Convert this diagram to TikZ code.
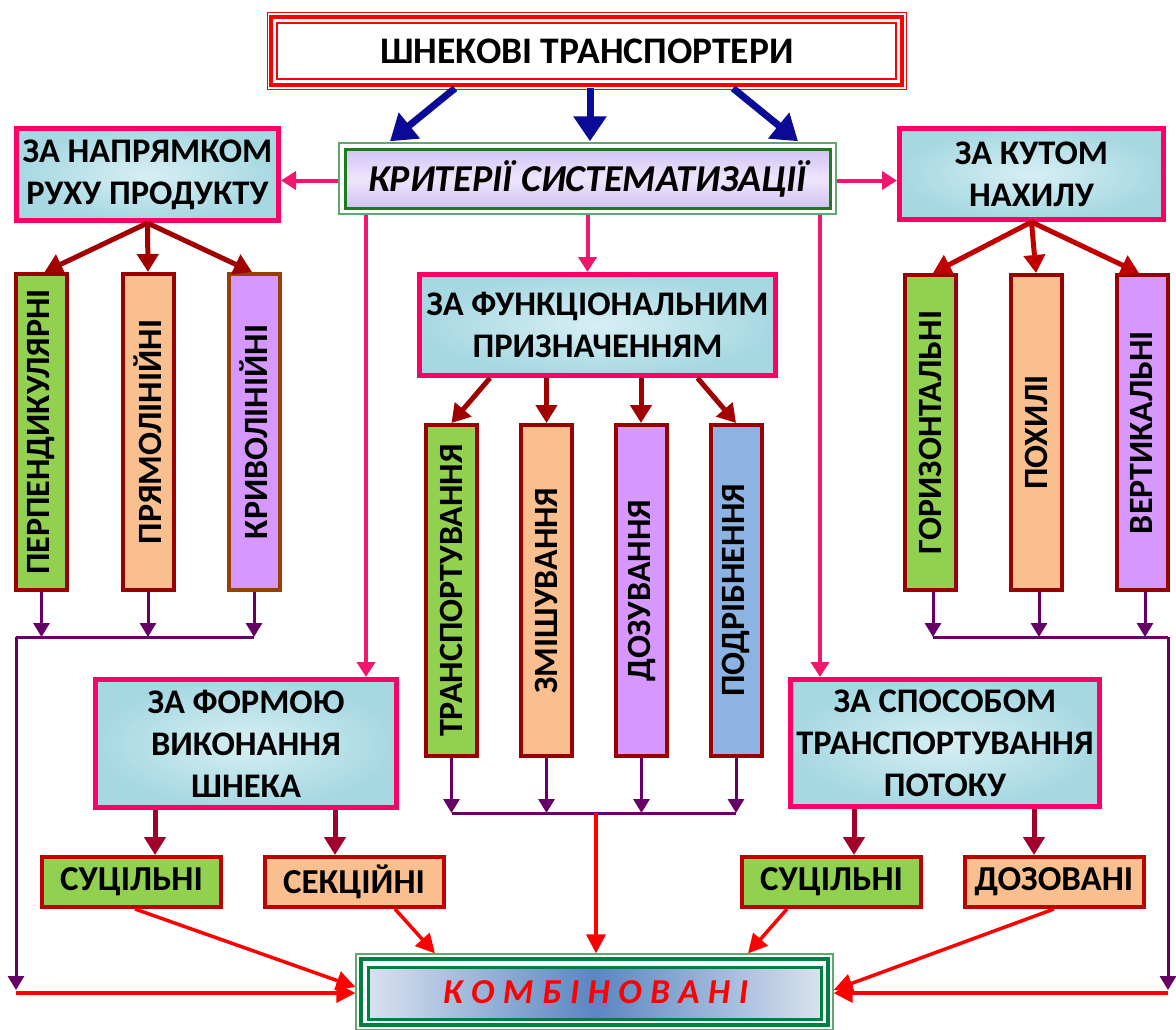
\documentclass[tikz,border=0pt]{standalone}
\usepackage{fontspec}
\setmainfont{Carlito}
\usetikzlibrary{arrows.meta,calc}
\definecolor{pinkb}{HTML}{FF0066}
\definecolor{pinka}{HTML}{F0186E}
\definecolor{aqua}{HTML}{BCE4EC}
\definecolor{navy}{HTML}{0A0A96}
\definecolor{drA}{HTML}{A00000}
\definecolor{drB}{HTML}{C00000}
\definecolor{drC}{HTML}{A0002A}
\definecolor{purp}{HTML}{660066}
\definecolor{redc}{HTML}{FF0000}
\definecolor{gfill}{HTML}{92D050}
\definecolor{pfill}{HTML}{F9BF8F}
\definecolor{lfill}{HTML}{D698FE}
\definecolor{bfill}{HTML}{8DB3E2}
\definecolor{boxred}{HTML}{990000}
\definecolor{brown}{HTML}{994000}
\definecolor{sred}{HTML}{C00000}
\definecolor{lav}{HTML}{D2C2F5}
\definecolor{lavl}{HTML}{EEE6FC}
\definecolor{gdark}{HTML}{1E7B1E}
\definecolor{glight}{HTML}{5FA86F}
\definecolor{cgreen}{HTML}{008040}
\definecolor{cblue}{HTML}{5A86C2}
\definecolor{cpale}{HTML}{D8E2EF}
\definecolor{aquad}{HTML}{A6D8E2}
\begin{document}
\begin{tikzpicture}[x=1pt,y=-1pt,
 catbox/.style={draw=pinkb, line width=5pt, inner color=aqua!60!white, outer color=aquad, inner sep=0pt, align=center, font=\bfseries\fontsize{34.5}{42}\selectfont},
 vbox/.style={draw=boxred, line width=4pt, inner sep=0pt, rotate=90, minimum height=51pt, font=\bfseries\fontsize{34}{40}\selectfont},
 sbox/.style={draw=sred, line width=4pt, inner sep=0pt, minimum width=179pt, minimum height=50pt, font=\bfseries\fontsize{35}{40}\selectfont},
 navyarr/.style={draw=navy, line width=7pt, -{Triangle[length=25pt,width=32pt]}},
 pinkarr/.style={draw=pinka, line width=4pt, -{Triangle[length=15pt,width=18pt]}},
 drarr/.style={line width=5pt, -{Triangle[length=18pt,width=21pt]}},
 purarr/.style={draw=purp, line width=3pt, -{Triangle[length=14pt,width=16pt]}},
 purline/.style={draw=purp, line width=3pt},
 redarr/.style={draw=redc, line width=3.5pt, -{Triangle[length=19pt,width=19pt]}},
 redline/.style={draw=redc, line width=3.5pt},
]
\useasboundingbox (0,0) rectangle (1176,1029);
\fill[white] (0,0) rectangle (1176,1029);

% title
\node[draw=red, line width=1.5pt, minimum width=639pt, minimum height=77pt, inner sep=0pt,
  font=\bfseries\fontsize{37.5}{44}\selectfont] (title) at (587,51) {ШНЕКОВІ ТРАНСПОРТЕРИ};
\draw[red, line width=4pt] (271,17) rectangle (902,85);
\draw[red, line width=1.5pt] (277,23) rectangle (896,79);

% criteria
\node[draw=glight, line width=1.5pt, minimum width=497pt, minimum height=71pt, inner sep=0pt] (crit) at (587.5,178.5) {};
\draw[gdark, line width=3pt, top color=lav, bottom color=lav, middle color=lavl] (345,149) rectangle (830,208);
\node[font=\bfseries\itshape\fontsize{38}{44}\selectfont] (critt) at (crit.center) {КРИТЕРІЇ СИСТЕМАТИЗАЦІЇ};

% category boxes
\node[catbox, minimum width=262pt, minimum height=92pt] (napr) at (147.5,174.5) {ЗА НАПРЯМКОМ\\РУХУ ПРОДУКТУ};
\node[catbox, minimum width=264pt, minimum height=91pt] (kut) at (1031.5,174) {ЗА КУТОМ\\НАХИЛУ};
\node[catbox, minimum width=356pt, minimum height=101pt] (func) at (597.5,325) {ЗА ФУНКЦІОНАЛЬНИМ\\ПРИЗНАЧЕННЯМ};
\node[catbox, minimum width=301pt, minimum height=128pt] (forma) at (246,743.5) {ЗА ФОРМОЮ\\ВИКОНАННЯ\\ШНЕКА};
\node[catbox, minimum width=309pt, minimum height=127pt] (spos) at (945,743) {ЗА СПОСОБОМ\\ТРАНСПОРТУВАННЯ\\ПОТОКУ};

% vertical boxes
\node[vbox, fill=gfill, minimum width=316pt] (perp) at (41.5,432) {ПЕРПЕНДИКУЛЯРНІ};
\node[vbox, fill=pfill, minimum width=316pt] (pryam) at (148,432) {ПРЯМОЛІНІЙНІ};
\node[vbox, fill=lfill, draw=brown, minimum width=316pt] (kryv) at (254,432) {КРИВОЛІНІЙНІ};
\node[vbox, fill=gfill, minimum width=315pt] (hor) at (930,432.5) {ГОРИЗОНТАЛЬНІ};
\node[vbox, fill=pfill, minimum width=315pt] (pokh) at (1036,432.5) {ПОХИЛІ};
\node[vbox, fill=lfill, minimum width=315pt] (vert) at (1142,432.5) {ВЕРТИКАЛЬНІ};
\node[vbox, fill=gfill, minimum width=331pt] (tr) at (451.5,590.5) {ТРАНСПОРТУВАННЯ};
\node[vbox, fill=pfill, minimum width=331pt] (zm) at (546.5,590.5) {ЗМІШУВАННЯ};
\node[vbox, fill=lfill, minimum width=331pt] (dz) at (641.5,590.5) {ДОЗУВАННЯ};
\node[vbox, fill=bfill, minimum width=331pt] (pd) at (736,590.5) {ПОДРІБНЕННЯ};

% small boxes
\node[sbox, fill=gfill] (suc1) at (131.5,882) {СУЦІЛЬНІ};
\node[sbox, fill=pfill] (sek) at (354,882) {СЕКЦІЙНІ};
\node[sbox, fill=gfill] (suc2) at (831.5,882) {СУЦІЛЬНІ};
\node[sbox, fill=pfill] (doz) at (1054,882) {ДОЗОВАНІ};

% combined
\node[draw=glight, line width=1.2pt, fill=white, minimum width=477pt, minimum height=76pt, inner sep=0pt] (comb) at (594.5,992) {};
\draw[cgreen, line width=4pt] (361,959) rectangle (828,1025);
\draw[cgreen, line width=3pt, left color=cpale, right color=cpale, middle color=cblue] (368,967) rectangle (821,1019);
\node[font=\bfseries\itshape\fontsize{35}{40}\selectfont, text=redc] (combt) at ([xshift=1pt]comb.center)
 {К\hspace{8.5pt}О\hspace{8.5pt}М\hspace{8.5pt}Б\hspace{8.5pt}І\hspace{8.5pt}Н\hspace{8.5pt}О\hspace{8.5pt}В\hspace{8.5pt}А\hspace{8.5pt}Н\hspace{8.5pt}І};

% navy arrows
\draw[navyarr] ([xshift=-132pt,yshift=2pt]title.south) -- ([xshift=-197.5pt,yshift=1pt]crit.north);
\draw[navyarr] ([xshift=3pt,yshift=2pt]title.south) -- ([xshift=2.5pt,yshift=1pt]crit.north);
\draw[navyarr] ([xshift=146pt,yshift=2pt]title.south) -- ([xshift=210.5pt,yshift=1pt]crit.north);

% pink arrows
\draw[pinkarr] ([yshift=-2pt]crit.west) -- ([yshift=-2pt]crit.west -| napr.east);
\draw[pinkarr] ([yshift=-2pt]crit.east) -- ([yshift=-2pt]crit.east -| kut.west);
\draw[pinkarr] ([xshift=-221.5pt]crit.south) -- ([xshift=-221.5pt]crit.south |- forma.north);
\draw[pinkarr] (crit.south) -- (crit.south |- func.north);
\draw[pinkarr] ([xshift=232.5pt]crit.south) -- ([xshift=232.5pt]crit.south |- spos.north);

% dark red arrows
\draw[drarr, draw=drA] (napr.south) -- ([xshift=3pt]perp.east);
\draw[drarr, draw=drA] (napr.south) -- (pryam.east);
\draw[drarr, draw=drA] (napr.south) -- ([xshift=-2pt]kryv.east);
\draw[drarr, draw=drB] (kut.south) -- ([xshift=3pt]hor.east);
\draw[drarr, draw=drB] (kut.south) -- (pokh.east);
\draw[drarr, draw=drB] (kut.south) -- ([xshift=-3pt]vert.east);
\draw[drarr, draw=drA] ([xshift=-107.5pt]func.south) -- (tr.east);
\draw[drarr, draw=drA] ([xshift=-51pt]func.south) -- ([xshift=-51pt]func.south |- zm.east);
\draw[drarr, draw=drA] ([xshift=43.5pt]func.south) -- ([xshift=43.5pt]func.south |- dz.east);
\draw[drarr, draw=drA] ([xshift=100pt]func.south) -- (pd.east);
\draw[drarr, draw=drC] ([xshift=-91pt]forma.south) -- ([xshift=-91pt]forma.south |- suc1.north);
\draw[drarr, draw=drC] ([xshift=89pt]forma.south) -- ([xshift=89pt]forma.south |- sek.north);
\draw[drarr, draw=drC] ([xshift=-91pt]spos.south) -- ([xshift=-91pt]spos.south |- suc2.north);
\draw[drarr, draw=drC] ([xshift=89pt]spos.south) -- ([xshift=89pt]spos.south |- doz.north);

% purple buses
\coordinate (busL) at (16,637);
\coordinate (busR) at (1168,637);
\coordinate (busF) at (596,813);
\coordinate (cornL) at (16,993);
\coordinate (cornR) at (1168,993);
\draw[purarr] (perp.west) -- (perp.west |- busL);
\draw[purarr] (pryam.west) -- (pryam.west |- busL);
\draw[purarr] (kryv.west) -- (kryv.west |- busL);
\draw[purline] (busL) -- (busL -| kryv.west);
\draw[purarr] (busL) -- ([yshift=3pt]cornL);
\draw[purarr] ([xshift=3pt]hor.west) -- ([xshift=3pt]hor.west |- busR);
\draw[purarr] ([xshift=3pt]pokh.west) -- ([xshift=3pt]pokh.west |- busR);
\draw[purarr] ([xshift=3pt]vert.west) -- ([xshift=3pt]vert.west |- busR);
\draw[purline] ([xshift=3pt]busR -| hor.west) -- (busR);
\draw[purarr] (busR) -- ([yshift=3pt]cornR);
\draw[purarr] (tr.west) -- (tr.west |- busF);
\draw[purarr] (zm.west) -- (zm.west |- busF);
\draw[purarr] (dz.west) -- (dz.west |- busF);
\draw[purarr] (pd.west) -- (pd.west |- busF);
\draw[purline] (busF -| tr.west) -- (busF -| pd.west);

% red arrows
\draw[redarr] (cornL) -- ([yshift=-1pt]comb.west);
\draw[redarr] (cornR) -- ([yshift=-1pt]comb.east);
\draw[redarr] (busF) -- (busF |- comb.north);
\draw[redarr] ([xshift=3.5pt]suc1.south) -- ([yshift=5pt]comb.west);
\draw[redarr] ([xshift=41pt]sek.south) -- ([xshift=-159.5pt]comb.north);
\draw[redarr] ([xshift=-44.5pt]suc2.south) -- ([xshift=153.5pt]comb.north);
\draw[redarr] (doz.south) -- ([yshift=2pt]comb.east);
\end{tikzpicture}
\end{document}
